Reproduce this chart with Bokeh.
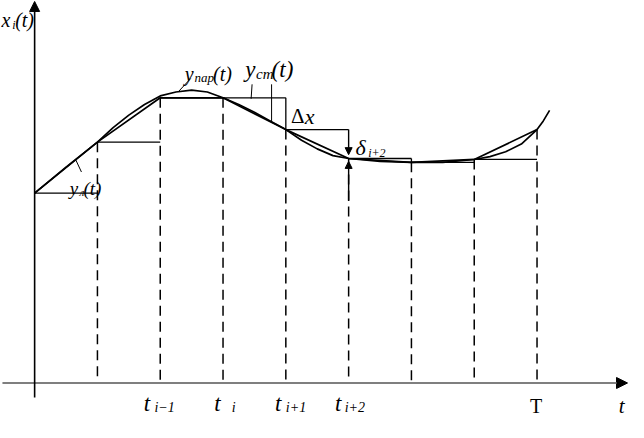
from bokeh.plotting import figure
from bokeh.models import Range1d, Arrow, NormalHead
from bokeh.core.properties import value
from bokeh.embed import file_html
from bokeh.resources import INLINE

# ---------------- data ----------------
t_nodes = [0, 1, 2, 3, 4, 5, 6, 7, 8]
x_nodes = [1.97, 2.50, 2.96, 2.96, 2.63, 2.33, 2.29, 2.32, 2.63]

t_curve = [0, 0.25, 0.5, 0.75, 1, 1.25, 1.5, 1.75, 2, 2.25, 2.5, 2.75, 3,
           3.25, 3.5, 3.75, 4, 4.25, 4.5, 4.75, 5, 5.5, 6, 6.5, 7, 7.25,
           7.5, 7.75, 8, 8.1, 8.2]
x_curve = [1.97, 2.105, 2.24, 2.37, 2.50, 2.65, 2.78, 2.89, 2.98, 3.02, 3.04,
           3.02, 2.96, 2.89, 2.81, 2.72, 2.63, 2.52, 2.43, 2.36, 2.33, 2.30,
           2.29, 2.29, 2.32, 2.35, 2.40, 2.48, 2.63, 2.72, 2.83]

tick_pos = [2, 3, 4, 5]
tick_main = ["t", "t", "t", "t"]
tick_sub = ["i\u22121", "i", "i+1", "i+2"]
T_pos = 8

# ------------- geometry helpers (reference pixel -> data) -------------
def tx(X):
    return (X - 35) / 64.4

def vy(Y):
    return (397 - Y) / 100

W, H = 628, 422
p = figure(width=W, height=H, output_backend="svg", toolbar_location=None,
           x_range=Range1d(tx(0), tx(644)), y_range=Range1d(vy(438), vy(0)),
           min_border=0, outline_line_color=None)
p.xaxis.visible = False
p.yaxis.visible = False
p.xgrid.visible = False
p.ygrid.visible = False
p.background_fill_color = "white"

FONT = value("Liberation Serif")

# axes
p.add_layout(Arrow(end=NormalHead(size=11, fill_color="black", line_color="black"),
                   x_start=tx(2), y_start=0, x_end=tx(643), y_end=0,
                   line_color="#7f7f7f", line_width=2))
p.add_layout(Arrow(end=NormalHead(size=10, fill_color="black", line_color="black"),
                   x_start=0, y_start=vy(412), x_end=0, y_end=vy(1),
                   line_color="black", line_width=1.6))

# dashed verticals from nodes down to the axis
p.segment(x0=t_nodes[1:], y0=x_nodes[1:], x1=t_nodes[1:], y1=[0] * 8,
          line_color="black", line_width=1.5, line_dash="10 6")

# staircase y_ст
p.segment(x0=t_nodes[:-1], y0=x_nodes[:-1], x1=t_nodes[1:], y1=x_nodes[:-1],
          line_color="black", line_width=1.3)
down = [k for k in range(1, 9) if x_nodes[k] < x_nodes[k - 1] and k != 5]
p.segment(x0=[t_nodes[k] for k in down], y0=[x_nodes[k - 1] for k in down],
          x1=[t_nodes[k] for k in down], y1=[x_nodes[k] for k in down],
          line_color="black", line_width=1.3)

# delta arrows at t_{i+2}
p.add_layout(Arrow(end=NormalHead(size=7, fill_color="black", line_color="black"),
                   x_start=t_nodes[5], y_start=x_nodes[4], x_end=t_nodes[5], y_end=vy(160),
                   line_color="black", line_width=1.4))
p.add_layout(Arrow(end=NormalHead(size=7, fill_color="black", line_color="black"),
                   x_start=t_nodes[5], y_start=vy(208), x_end=t_nodes[5], y_end=vy(167),
                   line_color="black", line_width=1.4))

# linear approximation y_л
p.line(t_nodes, x_nodes, line_color="black", line_width=1.7)
# smooth curve y_пар
p.line(t_curve, x_curve, line_color="black", line_width=1.7)

# leader lines
p.segment(x0=[tx(183), tx(258), tx(278), tx(77)], y0=[vy(94), vy(87), vy(87), vy(165)],
          x1=[tx(195), tx(257), tx(278), tx(83)], y1=[vy(81), vy(102), vy(126), vy(178)],
          line_color="black", line_width=1)

def txt(X, Y, s, size, italic=True, align="left"):
    p.text(x=[tx(X)], y=[vy(Y)], text=[s], text_font=FONT,
           text_font_size=f"{size}px", text_font_style="italic" if italic else "normal",
           text_align=align, text_baseline="alphabetic", text_color="black")

# x_i(t)
txt(1, 20, "x", 20); txt(12, 25, "i", 12); txt(15, 20, "(t)", 20)
# y_пар(t)
txt(189, 76, "y", 20); txt(199, 80, "пар", 13); txt(218, 76, "(t)", 20)
# y_ст(t)
txt(251, 72, "y", 23); txt(262, 76, "ст", 15); txt(278, 72, "(t)", 23)
# y_л(t)
txt(71, 195, "y", 19); txt(81, 199, "л", 11); txt(85, 195, "(t)", 19)
# Δx
txt(298, 120, "\u0394", 21, italic=False); txt(312, 120, "x", 22)
# δ_{i+2}
txt(364, 153, "\u03b4", 22); txt(377, 158, "i+2", 12)

# time tick labels
main_dx = [-17, -9, -11, -14]
sub_dx = [-6, 9, 0, -4]
for k, pos in enumerate(tick_pos):
    X = 35 + pos * 64.4
    txt(X + main_dx[k], 418, tick_main[k], 23)
    txt(X + sub_dx[k], 422, tick_sub[k], 14)
txt(35 + T_pos * 64.4 - 1, 421, "T", 20, italic=False, align="center")
txt(634, 421, "t", 21)

open("out.html", "w").write(file_html(p, INLINE))
